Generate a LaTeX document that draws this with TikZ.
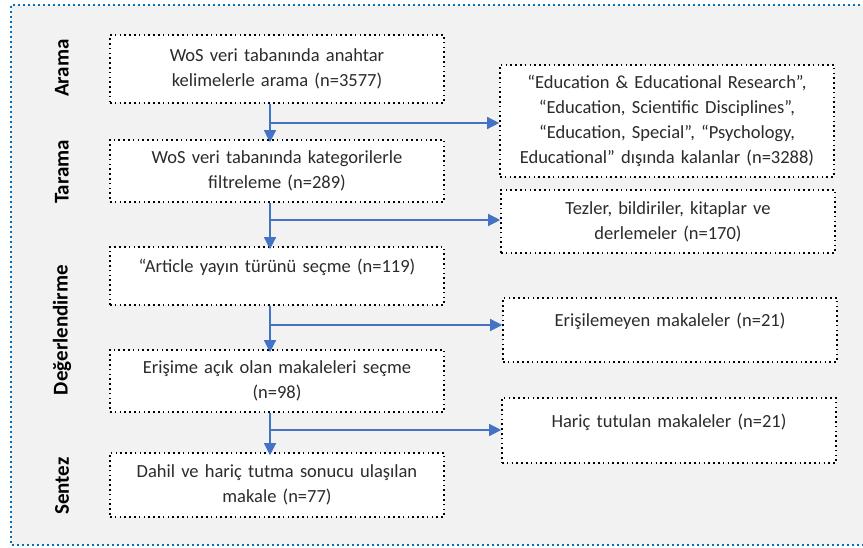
\documentclass[tikz,border=0pt]{standalone}
\usepackage{fontspec}
\setmainfont{Carlito}
\usetikzlibrary{arrows.meta}
\definecolor{framefill}{HTML}{F2F2F2}
\definecolor{frameblue}{HTML}{0070C0}
\definecolor{arrowblue}{HTML}{4472C4}
\definecolor{boxtext}{HTML}{2B2B2B}
\begin{document}
\begin{tikzpicture}[x=1pt,y=-1pt]
        \tikzstyle{stepbox}=[draw=black,fill=white,line width=1.6pt,dash pattern=on 1.6pt off 3.2pt,
                text=boxtext,align=center,inner sep=2pt,font=\fontsize{18.5}{25}\selectfont]
        \tikzstyle{leftbox}=[stepbox,minimum width=334pt,text width=325pt]
        \tikzstyle{rightbox}=[stepbox,minimum width=334pt,text width=325pt]
        \tikzstyle{toptext}=[text depth=20pt]
        \tikzstyle{phase}=[rotate=90,font=\bfseries\fontsize{21}{24}\selectfont]
        \tikzstyle{flow}=[draw=arrowblue,line width=1.3pt,-{Triangle[length=12pt,width=12pt]}]
        \useasboundingbox (0,0) rectangle (863,548);
        % background frame
        \fill[framefill] (11,5) rectangle (870,545);
        \draw[frameblue,line width=2pt,dash pattern=on 2.2pt off 2.8pt] (870,5) -- (11,5) -- (11,545) -- (870,545);
        % phases
        \node [phase] (p1) at (62,68) {Arama};
        \node [phase] (p2) at (62,172) {Tarama};
        \node [phase] (p3) at (62,330) {Değerlendirme};
        \node [phase] (p4) at (62,486) {Sentez};
        % main steps
        \node [leftbox,minimum height=68pt] (a1) at (277,69) {WoS veri tabanında anahtar\\kelimelerle arama (n=3577)};
        \node [leftbox,minimum height=62pt] (a2) at (277,171) {WoS veri tabanında kategorilerle\\filtreleme (n=289)};
        \node [leftbox,toptext,minimum height=58pt] (a3) at (277,276) {“Article yayın türünü seçme (n=119)};
        \node [leftbox,minimum height=62pt] (a4) at (277,381) {Erişime açık olan makaleleri seçme\\(n=98)};
        \node [leftbox,minimum height=64pt] (a5) at (277,485) {Dahil ve hariç tutma sonucu ulaşılan\\makale (n=77)};
        % excluded records
        \node [rightbox,minimum height=112pt] (r1) at (667,121) {“Education \& Educational Research”,\\“Education, Scientific Disciplines”,\\“Education, Special”, “Psychology,\\Educational” dışında kalanlar (n=3288)};
        \node [rightbox,minimum height=63pt] (r2) at (668,221.5) {Tezler, bildiriler, kitaplar ve\\derlemeler (n=170)};
        \node [rightbox,toptext,minimum height=64pt] (r3) at (670,330) {Erişilemeyen makaleler (n=21)};
        \node [rightbox,toptext,minimum height=65pt] (r4) at (669,430.5) {Hariç tutulan makaleler (n=21)};
        % junctions on the spine
        \coordinate (j1) at (270,123);
        \coordinate (j2) at (270,220);
        \coordinate (j3) at (270,325);
        \coordinate (j4) at (270,430);
        \path[flow] (a1.south -| j1) -- ([yshift=-3pt]a2.north -| j1);
        \path[flow] (a2.south -| j2) -- ([yshift=-3pt]a3.north -| j2);
        \path[flow] (a3.south -| j3) -- ([yshift=-3pt]a4.north -| j3);
        \path[flow] (a4.south -| j4) -- ([yshift=-3pt]a5.north -| j4);
        \path[flow] (j1) -- (j1 -| r1.west);
        \path[flow] (j2) -- (j2 -| r2.west);
        \path[flow] (j3) -- (j3 -| r3.west);
        \path[flow] (j4) -- (j4 -| r4.west);
\end{tikzpicture}
\end{document}
